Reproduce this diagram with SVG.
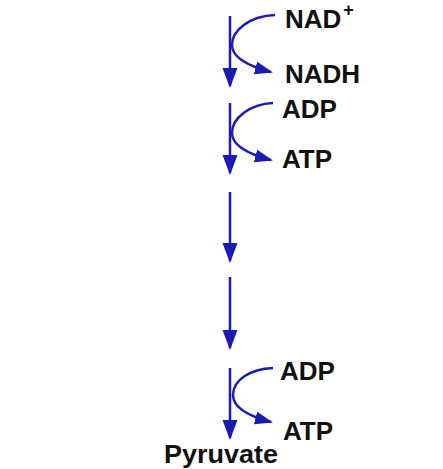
<svg xmlns="http://www.w3.org/2000/svg" width="443" height="469" viewBox="0 0 443 469">
<style>
.t{font-family:"Liberation Sans",Arial,sans-serif;font-weight:bold;font-size:26px;fill:#111}
.c{fill:none;stroke:#1a1ab4;stroke-width:2.5}
</style>
<defs>
<marker id="ah" markerUnits="userSpaceOnUse" markerWidth="22" markerHeight="16" refX="18" refY="7.5" orient="auto">
<path d="M0,0 L20,7.5 L0,15 Z" fill="#1a1ab4"/>
</marker>
<marker id="ahs" markerUnits="userSpaceOnUse" markerWidth="20" markerHeight="14" refX="16" refY="6.5" orient="auto">
<path d="M0,0 L18,6.5 L0,13 Z" fill="#1a1ab4"/>
</marker>
</defs>
<rect width="443" height="469" fill="#fff"/>
<g id="connectors">
<line class="c" x1="230" y1="16" x2="230" y2="86" marker-end="url(#ah)"/>
<line class="c" x1="230" y1="103" x2="230" y2="173" marker-end="url(#ah)"/>
<line class="c" x1="230" y1="192" x2="230" y2="261" marker-end="url(#ah)"/>
<line class="c" x1="230" y1="277" x2="230" y2="348" marker-end="url(#ah)"/>
<line class="c" x1="230" y1="368" x2="230" y2="438" marker-end="url(#ah)"/>
<path class="c" d="M275 15 C250 16 232 30 232 45 C232 58 248 66 271 72" marker-end="url(#ahs)"/>
<path class="c" d="M273 103 C250 104 232 118 232 133 C232 146 248 154 271 160" marker-end="url(#ahs)"/>
<path class="c" d="M273 368 C250 369 233 380 233 395 C233 408 248 416 271 422" marker-end="url(#ahs)"/>
</g>
<g id="nad"><text class="t" x="285" y="28">NAD<tspan font-size="18" dx="2" dy="-12">+</tspan></text></g>
<g id="nadh"><text class="t" x="285" y="83">NADH</text></g>
<g id="adp1"><text class="t" x="282" y="118">ADP</text></g>
<g id="atp1"><text class="t" x="282" y="168">ATP</text></g>
<g id="adp2"><text class="t" x="280" y="380">ADP</text></g>
<g id="atp2"><text class="t" x="283" y="440">ATP</text></g>
<g id="pyruvate"><text class="t" x="164" y="463" textLength="114" lengthAdjust="spacingAndGlyphs">Pyruvate</text></g>
</svg>
